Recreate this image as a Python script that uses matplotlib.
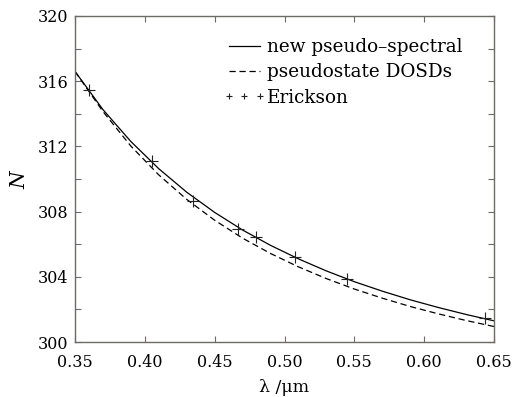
"""refractive-index style curve N(lambda): three methods compared"""

import matplotlib
matplotlib.use('Agg')
import matplotlib.pyplot as plt
from matplotlib.ticker import MultipleLocator, FormatStrFormatter

# wavelength grid for the two computed curves (um)
WAVELENGTH = [0.35, 0.37, 0.39, 0.41, 0.43, 0.45, 0.47, 0.49,
              0.51, 0.53, 0.55, 0.57, 0.59, 0.61, 0.63, 0.65]
N_SPECTRAL = [316.60, 314.26, 312.30, 310.63, 309.19, 307.95, 306.87, 305.93,
              305.10, 304.36, 303.70, 303.12, 302.59, 302.12, 301.69, 301.30]
N_DOSD = [316.60, 314.14, 312.02, 310.25, 308.75, 307.47, 306.37, 305.43,
          304.61, 303.89, 303.25, 302.69, 302.18, 301.73, 301.32, 300.95]

# Erickson measurements
ERICKSON_WL = [0.3602, 0.4048, 0.4345, 0.4667, 0.4798, 0.5076, 0.5448, 0.6436]
ERICKSON_N = [315.45, 311.08, 308.68, 306.93, 306.42, 305.19, 303.86, 301.46]

LABELS = ['new pseudo\u2013spectral', 'pseudostate DOSDs', 'Erickson']

plt.rcParams['font.family'] = ['DejaVu Serif']
plt.rcParams['mathtext.fontset'] = 'dejavuserif'

fig = plt.figure(figsize=(5.13, 3.97), dpi=100)
ax = fig.add_axes([0.1462, 0.1385, 0.8168, 0.8212])

ax.plot(WAVELENGTH, N_SPECTRAL, color='black', linewidth=0.9,
        label=LABELS[0])
ax.plot(WAVELENGTH, N_DOSD, color='black', linewidth=0.9,
        linestyle=(0, (5, 3)), label=LABELS[1])
ax.plot(ERICKSON_WL, ERICKSON_N, linestyle='none', marker='+',
        markersize=9, markeredgewidth=0.8, color='#222222', label=LABELS[2])

ax.set_xlim(0.35, 0.65)
ax.set_ylim(300, 320)
ax.xaxis.set_major_locator(MultipleLocator(0.05))
ax.xaxis.set_major_formatter(FormatStrFormatter('%.2f'))
ax.yaxis.set_major_locator(MultipleLocator(4))
ax.yaxis.set_minor_locator(MultipleLocator(2))

for side in ax.spines.values():
    side.set_color('#6e6a66')
    side.set_linewidth(1.0)
ax.tick_params(which='both', direction='in', top=True, right=True,
               length=4, width=0.8, color='#6e6a66', labelsize=11.5)
ax.tick_params(axis='x', pad=8.5)
ax.tick_params(axis='y', pad=5)

ax.set_xlabel('\u03bb /\u03bcm', fontsize=12.5, labelpad=6)
ax.set_ylabel('$N$', fontsize=14.5, labelpad=6)

ax.legend(loc='upper left', bbox_to_anchor=(0.336, 0.955), frameon=False,
          fontsize=13.2, handlelength=2.3, handletextpad=0.1,
          labelspacing=0.4, borderaxespad=0, numpoints=3, markerscale=0.45)

fig.savefig('out.png', dpi=100)
